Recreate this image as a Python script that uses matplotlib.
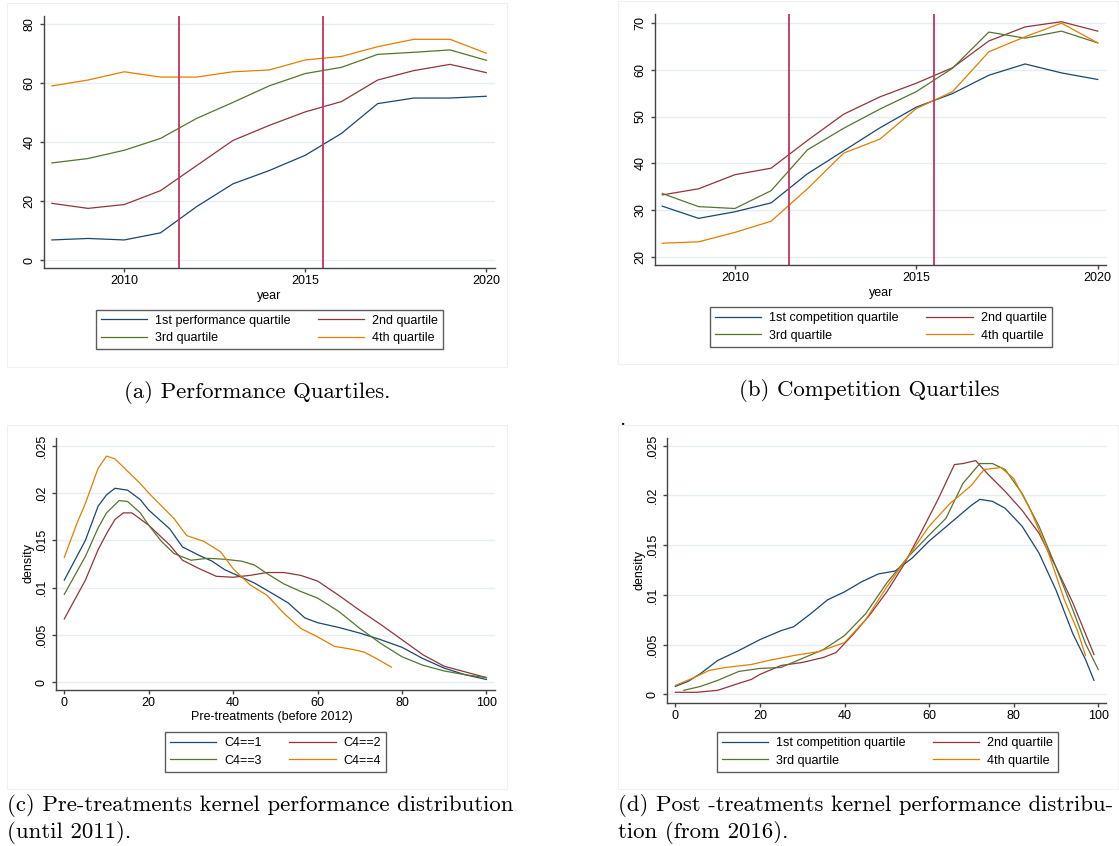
import matplotlib
matplotlib.use("Agg")
import matplotlib.pyplot as plt
from matplotlib.patches import Rectangle

plt.rcParams['font.family'] = ['Liberation Sans', 'DejaVu Sans']

W, H = 1119, 846

# colours (Stata s2color)
c_blue = '#1a476f'
c_red = '#90353b'
c_green = '#55752f'
c_orange = '#e37e00'
c_vline = '#c8325a'
c_grid = '#e6eef0'

# ---- panel (a): performance quartiles ----
years = list(range(2008, 2021))
perf_q1 = [6.8, 7.3, 6.8, 9.2, 18.1, 25.8, 30.3, 35.5, 42.9, 53.0, 54.9, 54.9, 55.5]
perf_q2 = [19.2, 17.5, 18.8, 23.5, 32.0, 40.5, 45.6, 50.2, 53.7, 61.0, 64.2, 66.3, 63.5]
perf_q3 = [32.9, 34.4, 37.2, 41.2, 48.0, 53.4, 59.0, 63.2, 65.3, 69.7, 70.4, 71.2, 67.7]
perf_q4 = [59.0, 61.0, 63.8, 62.0, 62.0, 63.8, 64.4, 67.8, 69.0, 72.3, 74.8, 74.8, 70.1]

# ---- panel (b): competition quartiles ----
comp_q1 = [30.9, 28.3, 29.7, 31.6, 37.8, 42.7, 47.6, 52.0, 54.9, 58.8, 61.2, 59.3, 57.9]
comp_q2 = [33.3, 34.6, 37.6, 39.0, 44.9, 50.5, 54.2, 57.1, 60.4, 66.1, 69.1, 70.2, 68.2]
comp_q3 = [33.6, 30.8, 30.4, 34.2, 42.9, 47.5, 51.6, 55.3, 60.3, 68.0, 66.7, 68.2, 65.7]
comp_q4 = [23.0, 23.3, 25.3, 27.7, 34.6, 42.2, 45.2, 51.7, 55.3, 63.8, 67.0, 69.9, 65.7]

treat_years = [2011.5, 2015.5]

# ---- panel (c): pre-treatment kernel densities ----
pre_x1 = [0, 5, 8, 10, 12, 15, 18, 20, 25, 28, 32, 35, 38, 40, 45, 50, 53, 57, 60, 65, 70, 75, 80, 85, 90, 95, 100]
pre_y1 = [.0108, .0150, .0186, .0198, .0205, .0203, .0193, .0182, .0162, .0143, .0134, .0128, .0119, .0115,
          .0105, .0092, .0084, .0068, .0063, .0058, .0052, .0045, .0037, .0025, .0015, .0008, .0003]
pre_x2 = [0, 5, 8, 10, 12, 14, 16, 20, 25, 28, 32, 36, 40, 44, 48, 52, 56, 60, 65, 70, 75, 80, 85, 90, 95, 100]
pre_y2 = [.0067, .0108, .0140, .0157, .0172, .0179, .0179, .0166, .0145, .0129, .0120, .0112, .0111, .0113,
          .0116, .0116, .0113, .0107, .0092, .0076, .0061, .0045, .0029, .0017, .0011, .0005]
pre_x3 = [0, 5, 8, 10, 13, 15, 18, 20, 23, 26, 30, 34, 38, 42, 45, 48, 52, 56, 60, 65, 70, 75, 80, 85, 90, 95, 100]
pre_y3 = [.0093, .0133, .0163, .0179, .0192, .0191, .0179, .0166, .0149, .0136, .0129, .0131, .0130, .0128,
          .0124, .0115, .0104, .0096, .0089, .0075, .0057, .0041, .0027, .0018, .0012, .0008, .0005]
pre_x4 = [0, 3, 5, 8, 10, 12, 15, 18, 20, 24, 26, 29, 33, 37, 40, 44, 48, 52, 56, 60, 64, 68, 71, 74, 77.5]
pre_y4 = [.0132, .0168, .0189, .0226, .0239, .0236, .0223, .0210, .0200, .0182, .0173, .0155, .0149, .0138,
          .0120, .0103, .0092, .0073, .0057, .0048, .0038, .0035, .0032, .0025, .0016]

# ---- panel (d): post-treatment kernel densities ----
post_x1 = [0, 3, 6, 10, 15, 20, 25, 28, 32, 36, 40, 44, 48, 52, 56, 60, 65, 70, 72, 75, 78, 82, 86, 90, 94, 97, 99]
post_y1 = [.0008, .0013, .0021, .0034, .0044, .0055, .0064, .0068, .0081, .0095, .0103, .0113, .0121, .0124,
           .0137, .0154, .0172, .0190, .0196, .0194, .0187, .0169, .0142, .0105, .0061, .0035, .0014]
post_x2 = [0, 5, 10, 15, 18, 20, 25, 30, 35, 38, 42, 46, 50, 54, 58, 62, 66, 68, 71, 74, 78, 82, 86, 90, 94, 99]
post_y2 = [.0002, .0002, .0004, .0011, .0015, .0020, .0029, .0032, .0037, .0042, .0060, .0080, .0103, .0130,
           .0162, .0195, .0231, .0232, .0235, .0221, .0204, .0185, .0162, .0128, .0092, .0040]
post_x3 = [2, 6, 10, 15, 20, 25, 30, 35, 40, 45, 50, 55, 60, 64, 68, 72, 75, 78, 82, 86, 90, 94, 97, 100]
post_y3 = [.0004, .0008, .0014, .0023, .0026, .0027, .0036, .0045, .0059, .0081, .0112, .0138, .0160, .0177,
           .0212, .0232, .0232, .0226, .0202, .0169, .0128, .0085, .0051, .0025]
post_x4 = [0, 4, 8, 12, 18, 22, 28, 34, 40, 45, 50, 55, 60, 65, 70, 73, 77, 80, 84, 88, 92, 95, 97]
post_y4 = [.0009, .0016, .0024, .0027, .0030, .0034, .0039, .0043, .0052, .0075, .0108, .0138, .0169, .0192,
           .0210, .0226, .0228, .0217, .0185, .0145, .0095, .0065, .0039]

dens_ticks = [0, .005, .01, .015, .02, .025]
dens_labels = ['0', '.005', '.01', '.015', '.02', '.025']

fig = plt.figure(figsize=(W / 100, H / 100), dpi=100)


def rect(l, t, r, b):
    return [l / W, 1 - b / H, (r - l) / W, (b - t) / H]


def frame(l, t, r, b):
    fig.patches.append(Rectangle((l / W, 1 - b / H), (r - l) / W, (b - t) / H,
                                 transform=fig.transFigure, facecolor='white',
                                 edgecolor='#f0f0f0', lw=0.8, zorder=-5))


def style(ax):
    for s in ['top', 'right']:
        ax.spines[s].set_visible(False)
    for s in ['left', 'bottom']:
        ax.spines[s].set_color('#444444')
        ax.spines[s].set_linewidth(1.0)
    ax.tick_params(colors='#444444', labelcolor='black', labelsize=9, length=3, width=1)
    ax.tick_params(axis='x', pad=2)
    ax.tick_params(axis='y', labelrotation=90, pad=3.2)
    for lab in ax.get_yticklabels():
        lab.set_va('center')
    ax.grid(axis='y', color=c_grid, lw=1)
    ax.set_axisbelow(True)
    ax.set_facecolor('none')


def xlab(ax, text, cx, cy):
    ax.set_xlabel(text, fontsize=9)
    ax.xaxis.label.set_va('center')
    ax.xaxis.set_label_coords(cx / W, 1 - cy / H, transform=fig.transFigure)


def ylab(ax, text, cx, cy):
    ax.set_ylabel(text, fontsize=9)
    ax.yaxis.label.set_va('center')
    ax.yaxis.set_label_coords(cx / W, 1 - cy / H, transform=fig.transFigure)


def legend(ax, lines, labels, cx, cy):
    # Stata fills the legend row by row; matplotlib fills column by column
    order = [0, 2, 1, 3]
    lg = ax.legend([lines[i] for i in order], [labels[i] for i in order],
                   loc='center', ncol=2, fontsize=9,
                   bbox_to_anchor=(cx / W, 1 - cy / H), bbox_transform=fig.transFigure,
                   frameon=True, fancybox=False, handlelength=3.7, handletextpad=0.65,
                   columnspacing=2.2, labelspacing=0.42, borderpad=0.4, borderaxespad=0)
    lg.get_frame().set_edgecolor('#333333')
    lg.get_frame().set_linewidth(1.0)


def draw(ax, xs, ys_list):
    cols = [c_blue, c_red, c_green, c_orange]
    out = []
    for (x, y), c in zip(zip(xs, ys_list), cols):
        out.append(ax.plot(x, y, color=c, lw=0.9)[0])
    return out


# panel frames
frame(7, 3, 507, 367)
frame(618, 1, 1118, 364)
frame(7, 425, 507, 789)
frame(618, 425, 1118, 789)

# (a)
ax = fig.add_axes(rect(43.9, 16, 494.6, 268))
lines = draw(ax, [years] * 4, [perf_q1, perf_q2, perf_q3, perf_q4])
for t in treat_years:
    ax.axvline(t, color=c_vline, lw=1.3)
ax.set_xlim(2007.78, 2020.23)
ax.set_ylim(-2.71, 82.7)
ax.set_xticks([2010, 2015, 2020])
ax.set_yticks([0, 20, 40, 60, 80])
style(ax)
xlab(ax, 'year', 269, 296)
legend(ax, lines, ['1st performance quartile', '2nd quartile', '3rd quartile', '4th quartile'], 269.5, 329.5)

# (b)
ax = fig.add_axes(rect(655.4, 14, 1106.4, 265))
lines = draw(ax, [years] * 4, [comp_q1, comp_q2, comp_q3, comp_q4])
for t in treat_years:
    ax.axvline(t, color=c_vline, lw=1.3)
ax.set_xlim(2007.81, 2020.24)
ax.set_ylim(18.36, 71.85)
ax.set_xticks([2010, 2015, 2020])
ax.set_yticks([20, 30, 40, 50, 60, 70])
style(ax)
xlab(ax, 'year', 880.7, 293)
legend(ax, lines, ['1st competition quartile', '2nd quartile', '3rd quartile', '4th quartile'], 880.7, 327)

# (c)
ax = fig.add_axes(rect(56.4, 438, 494.6, 690))
lines = draw(ax, [pre_x1, pre_x2, pre_x3, pre_x4], [pre_y1, pre_y2, pre_y3, pre_y4])
ax.set_xlim(-1.87, 101.94)
ax.set_ylim(-0.00081, 0.02581)
ax.set_xticks([0, 20, 40, 60, 80, 100])
ax.set_yticks(dens_ticks, dens_labels)
style(ax)
xlab(ax, 'Pre-treatments (before 2012)', 272, 716.5)
ylab(ax, 'density', 28.6, 563)
legend(ax, lines, ['C4==1', 'C4==2', 'C4==3', 'C4==4'], 275.6, 752)

# (d)
ax = fig.add_axes(rect(667.1, 438, 1106.4, 703))
lines = draw(ax, [post_x1, post_x2, post_x3, post_x4], [post_y1, post_y2, post_y3, post_y4])
ax.set_xlim(-1.96, 101.94)
ax.set_ylim(-0.000875, 0.02577)
ax.set_xticks([0, 20, 40, 60, 80, 100])
ax.set_yticks(dens_ticks, dens_labels)
style(ax)
ylab(ax, 'density', 639.3, 570)
legend(ax, lines, ['1st competition quartile', '2nd quartile', '3rd quartile', '4th quartile'], 887.4, 752)

# captions (LaTeX style)
cap = dict(fontfamily='cmr10', fontsize=16.4, color='black')
fig.text(257 / W, 1 - 392 / H, '(a) Performance Quartiles.', ha='center', va='center', **cap)
fig.text(869 / W, 1 - 390 / H, '(b) Competition Quartiles', ha='center', va='center', **cap)
fig.text(7 / W, 1 - 805 / H, '(c) Pre-treatments kernel performance distribution', ha='left', va='center', **cap)
fig.text(7 / W, 1 - 832 / H, '(until 2011).', ha='left', va='center', **cap)
fig.text(618 / W, 1 - 805 / H, '(d) Post -treatments kernel performance distribu-', ha='left', va='center', **cap)
fig.text(618 / W, 1 - 832 / H, 'tion (from 2016).', ha='left', va='center', **cap)
fig.text(622 / W, 1 - 419 / H, '.', ha='center', va='center', **cap)

fig.savefig('out.png', dpi=100)
